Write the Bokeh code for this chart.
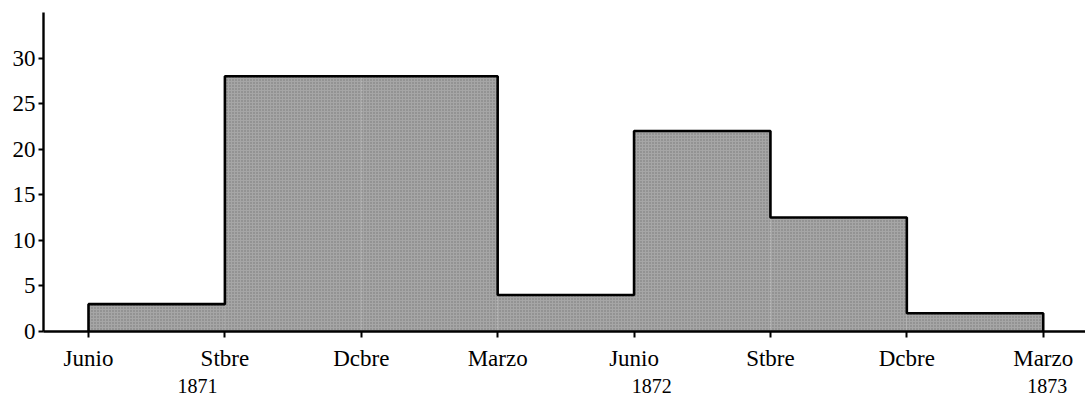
from bokeh.plotting import figure
from bokeh.models import Range1d, FixedTicker, LinearAxis
from bokeh.embed import file_html
from bokeh.resources import INLINE

# Data: quarterly values (step histogram)
quarter_ticks = [0, 1, 2, 3, 4, 5, 6, 7]
tick_labels = ["Junio", "Stbre", "Dcbre", "Marzo", "Junio", "Stbre", "Dcbre", "Marzo"]
values = [3, 28, 28, 4, 22, 12.5, 2]
years = ["1871", "1872", "1873"]
year_x = [0.8, 4.13, 7.03]
y_ticks = [0, 5, 10, 15, 20, 25, 30]

FONT = "Liberation Serif"

p = figure(width=1085, height=402, output_backend="svg", toolbar_location=None,
           x_range=Range1d(-0.33, 7.31), y_range=Range1d(0, 35),
           min_border_left=43, min_border_right=0, min_border_top=12, min_border_bottom=71)
p.xgrid.visible = False
p.ygrid.visible = False
p.outline_line_color = None
p.background_fill_color = "white"
p.border_fill_color = "white"

lefts = quarter_ticks[:-1]
rights = quarter_ticks[1:]
p.quad(left=lefts, right=rights, bottom=0, top=values,
       fill_color="#a6a6a6", line_color=None,
       hatch_pattern="dot", hatch_color="#555555", hatch_scale=3, hatch_alpha=0.6)

xs, ys = [lefts[0]], [0]
for l, r, v in zip(lefts, rights, values):
    xs += [l, r]
    ys += [v, v]
xs.append(rights[-1])
ys.append(0)
p.line(xs, ys, line_color="black", line_width=2.6)

# axes
p.xaxis.ticker = FixedTicker(ticks=quarter_ticks)
p.xaxis.major_label_overrides = {t: lab for t, lab in zip(quarter_ticks, tick_labels)}
p.yaxis.ticker = FixedTicker(ticks=y_ticks)
for ax in (p.xaxis[0], p.yaxis[0]):
    ax.axis_line_width = 2.4
    ax.axis_line_color = "black"
    ax.major_tick_line_width = 2
    ax.major_tick_line_color = "black"
    ax.minor_tick_line_color = None
    ax.major_tick_in = 0
    ax.major_label_text_font = FONT
    ax.major_label_text_font_size = "23px"
    ax.major_label_text_color = "black"
p.xaxis.major_tick_out = 6
p.xaxis.major_label_standoff = 8
p.yaxis.major_tick_out = 5
p.yaxis.major_label_standoff = 3

# second row of x labels: years
year_axis = LinearAxis(ticker=FixedTicker(ticks=year_x),
                       major_label_overrides={x: y for x, y in zip(year_x, years)},
                       axis_line_color=None, major_tick_line_color=None,
                       major_tick_out=0, major_tick_in=0,
                       minor_tick_line_color=None,
                       major_label_text_font=FONT, major_label_text_font_size="20px",
                       major_label_text_color="black", major_label_standoff=5)
p.add_layout(year_axis, "below")

open("out.html", "w").write(file_html(p, INLINE))
